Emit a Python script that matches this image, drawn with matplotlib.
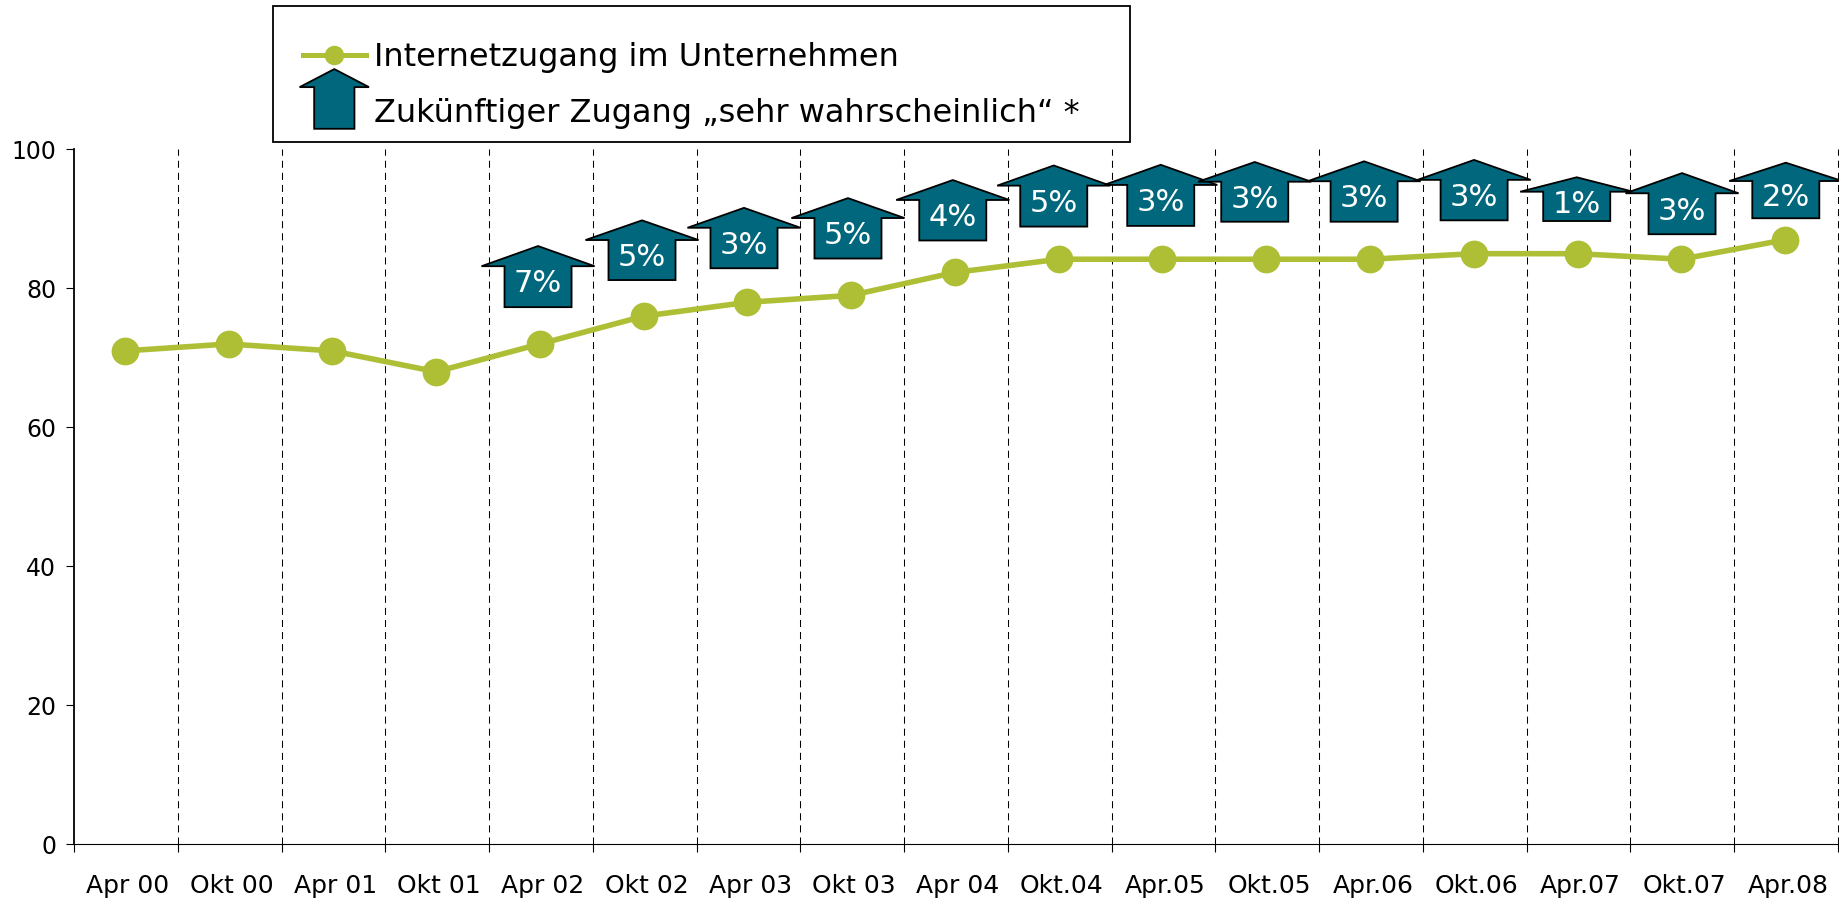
import matplotlib
matplotlib.use("Agg")
import matplotlib.pyplot as plt
from matplotlib.lines import Line2D
from matplotlib.patches import Polygon, Rectangle
from matplotlib.legend_handler import HandlerBase

labels = ["Apr 00", "Okt 00", "Apr 01", "Okt 01", "Apr 02", "Okt 02", "Apr 03", "Okt 03", "Apr 04",
          "Okt.04", "Apr.05", "Okt.05", "Apr.06", "Okt.06", "Apr.07", "Okt.07", "Apr.08"]
access = [71, 72, 71, 68, 72, 76, 78, 79, 82.3, 84.2, 84.2, 84.2, 84.2, 85, 85, 84.2, 87]

arrow_labels = ["7%", "5%", "3%", "5%", "4%", "5%", "3%", "3%", "3%", "3%", "1%", "3%", "2%"]
arrow_x = [4.472, 5.474, 6.457, 7.459, 8.469, 9.442, 10.473, 11.379, 12.433, 13.493, 14.482, 15.497, 16.497]
arrow_top = [86.1, 89.8, 91.6, 93.0, 95.6, 97.7, 97.8, 98.2, 98.3, 98.5, 96.0, 96.6, 98.1]
arrow_bottom = [77.3, 81.2, 82.9, 84.3, 86.9, 88.9, 89.0, 89.6, 89.6, 89.8, 89.7, 87.8, 90.1]

GREEN = "#AEBF36"
TEAL = "#00677C"
W, H = 1839, 898
plt.rcParams["font.family"] = ["DejaVu Sans"]

fig = plt.figure(figsize=(W / 100, H / 100), dpi=100)
ax = fig.add_axes([74 / W, (H - 844) / H, (1838 - 74) / W, (844 - 149.5) / H])
ax.set_xlim(0, 17)
ax.set_ylim(0, 100)

for s in ("top", "right"):
    ax.spines[s].set_visible(False)
ax.spines["left"].set_linewidth(1.3)
ax.spines["bottom"].set_linewidth(0.8)

ax.set_xticks(range(0, 18))
ax.set_xticklabels([])
ax.set_xticks([i + 0.52 for i in range(17)], labels, minor=True)
ax.tick_params(axis="x", which="major", length=5.8, width=0.8, direction="out")
ax.tick_params(axis="x", which="minor", length=0, pad=21.5, labelsize=18)
ax.set_yticks(range(0, 101, 20))
ax.tick_params(axis="y", length=5.8, width=0.8, pad=7, labelsize=17)

for i in range(1, 18):
    ax.axvline(i, color="black", lw=0.75, dashes=(6.8, 4.8), zorder=1, clip_on=False)

x = [i + 0.49 for i in range(len(access))]
ax.plot(x, access, color=GREEN, lw=4, marker="o", ms=20, mew=0, zorder=3,
        label="Internetzugang im Unternehmen")

WING, STEM = 0.545, 0.323
for cx, top, bot, txt in zip(arrow_x, arrow_top, arrow_bottom, arrow_labels):
    h = top - bot
    sh = top - 0.33 * h
    ax.add_patch(Polygon([(cx, top), (cx + WING, sh), (cx + STEM, sh), (cx + STEM, bot),
                          (cx - STEM, bot), (cx - STEM, sh), (cx - WING, sh)],
                         closed=True, fc=TEAL, ec="black", lw=1.3, zorder=4, clip_on=False))
    ax.text(cx, top - 0.62 * h, txt, color="white", ha="center", va="center",
            fontsize=22, family="DejaVu Sans", zorder=5)


class ArrowHandler(HandlerBase):
    def create_artists(self, legend, orig, xd, yd, width, height, fontsize, trans):
        cx = width / 2
        tip = height / 2 + 30
        sh = tip - 13
        bot = tip - 43
        return [Polygon([(cx, tip), (cx + 25, sh), (cx + 14.5, sh), (cx + 14.5, bot),
                         (cx - 14.5, bot), (cx - 14.5, sh), (cx - 25, sh)],
                        closed=True, fc=TEAL, ec="black", lw=1.3, transform=trans)]


fig.add_artist(Rectangle((273 / W, (H - 142) / H), (1130 - 273) / W, 136 / H, transform=fig.transFigure,
                         fc="white", ec="black", lw=1.3, zorder=6))
line_handle = Line2D([], [], color=GREEN, lw=3.6, marker="o", ms=14, mew=0)
arrow_handle = Rectangle((0, 0), 1, 1)
leg = fig.legend([line_handle, arrow_handle],
                 ["Internetzugang im Unternehmen", "Zukünftiger Zugang „sehr wahrscheinlich“ *"],
                 handler_map={Rectangle: ArrowHandler()}, numpoints=1, frameon=False,
                 loc="upper left", bbox_to_anchor=(303 / W, (H - 42) / H), borderaxespad=0, borderpad=0,
                 fontsize=23, handlelength=1.96, handletextpad=0.26, labelspacing=0.78)
leg.set_zorder(7)

fig.savefig("out.png", dpi=100)
